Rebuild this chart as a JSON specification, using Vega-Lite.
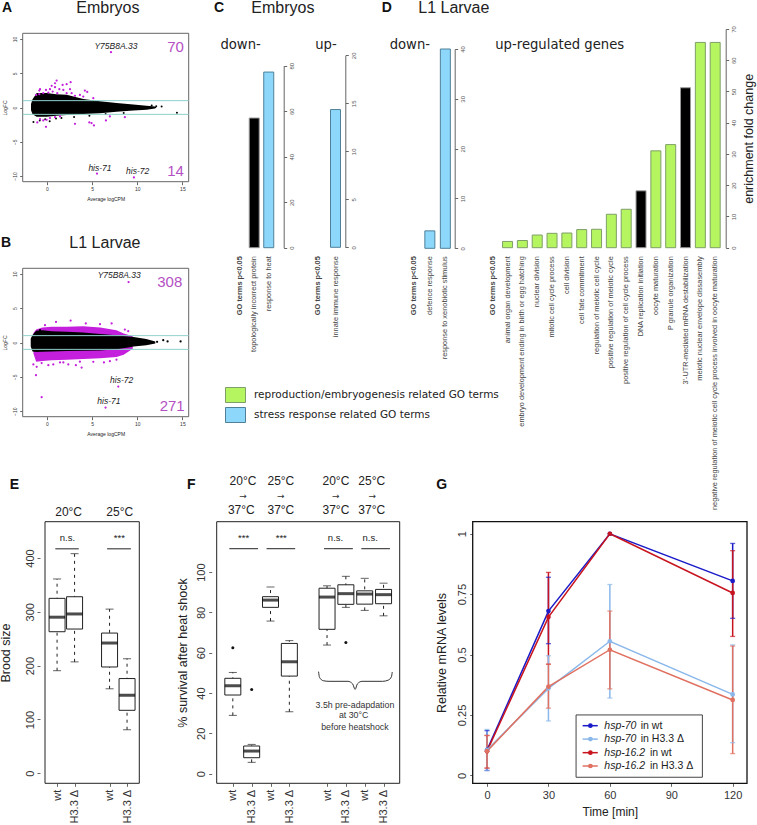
{
"$schema":"https://vega.github.io/schema/vega-lite/v6.json",
"width":757,"height":825,"padding":0,"autosize":{"type":"none"},
"background":"white",
"config":{"font":"Liberation Sans","view":{"stroke":null},"axis":{"grid":false,"domain":false,"tickColor":"#666","tickSize":3,"labelColor":"#333","titleColor":"#222","titleFontWeight":"normal","labelFlush":false,"labelOverlap":false}},
"resolve":{"scale":{"x":"independent","y":"independent"}},
"layer":[
{"layer":[
 {"data":{"values":[{}]},"mark":{"type":"rect","fill":"white","stroke":"#666","strokeWidth":1},
  "encoding":{
   "x":{"datum":-2.69,"type":"quantitative","scale":{"domain":[-2.69,15.7],"range":[22.7,188.7],"nice":false,"zero":false},
    "axis":{"orient":"bottom","offset":-643.3,"values":[0,5,10,15],"labelFontSize":5,"title":"Average logCPM","titleFontSize":5,"titlePadding":5,"labelPadding":2}},
   "x2":{"datum":15.7},
   "y":{"datum":-10.83,"type":"quantitative","scale":{"domain":[-10.83,10.83],"range":[181.7,33.3],"nice":false,"zero":false},
    "axis":{"orient":"left","offset":-22.7,"values":[-10,-5,0,5,10],"labelFontSize":5,"labelAngle":-90,"title":"LogFC","titleFontSize":5,"titlePadding":5,"labelPadding":2}},
   "y2":{"datum":10.83}}},
 {"data":{"values":[{"a":-1.77,"lo":-0.4,"hi":0.5},{"a":-1.6,"lo":-1.0,"hi":1.2},{"a":-1.14,"lo":-1.35,"hi":2.1},{"a":-0.04,"lo":-1.35,"hi":2.1},{"a":1,"lo":-1.2,"hi":1.95},{"a":2.18,"lo":-1.1,"hi":1.85},{"a":4.02,"lo":-0.95,"hi":1.25},{"a":5.87,"lo":-0.83,"hi":0.9},{"a":7.71,"lo":-0.63,"hi":0.65},{"a":9.56,"lo":-0.42,"hi":0.42},{"a":11.03,"lo":-0.32,"hi":0.25},{"a":11.96,"lo":-0.15,"hi":0.15},{"a":12.1,"lo":-0.05,"hi":0.05}]},
  "mark":{"type":"area","color":"black"},
  "encoding":{"x":{"field":"a","type":"quantitative"},"y":{"field":"hi","type":"quantitative"},"y2":{"field":"lo"}}},
 {"data":{"values":[{"a":12.7,"m":0.15},{"a":14.4,"m":-0.75},{"a":-1.5,"m":-2.1},{"a":-0.8,"m":-1.9},{"a":-0.2,"m":-1.7},{"a":0.3,"m":-2.0},{"a":1.0,"m":-1.6},{"a":1.6,"m":-1.55},{"a":3,"m":-1.4},{"a":4.7,"m":-1.2},{"a":6.5,"m":-0.95},{"a":8.5,"m":-0.8},{"a":12.1,"m":0.2},{"a":11.6,"m":0.3}]},
  "mark":{"type":"point","filled":true,"color":"black","size":4,"opacity":1},
  "encoding":{"x":{"field":"a","type":"quantitative"},"y":{"field":"m","type":"quantitative"}}},
 {"data":{"values":[{"a":7.09,"m":8.08},{"a":5.54,"m":-9.64},{"a":9.63,"m":-10.2},{"a":1.07,"m":3.93},{"a":0.89,"m":3.54},{"a":0.52,"m":3.16},{"a":0.89,"m":2.96},{"a":1.73,"m":3.3},{"a":2.62,"m":3.69},{"a":2.18,"m":3.4},{"a":2.55,"m":2.67},{"a":1.81,"m":2.57},{"a":1.37,"m":2.67},{"a":0.33,"m":2.67},{"a":-0.11,"m":2.57},{"a":-0.77,"m":2.67},{"a":-0.85,"m":2.48},{"a":-0.41,"m":2.09},{"a":0.15,"m":2.18},{"a":0.63,"m":2.33},{"a":1.14,"m":2.09},{"a":2.18,"m":2.09},{"a":2.73,"m":2.09},{"a":4.2,"m":2.48},{"a":4.46,"m":2.28},{"a":3.65,"m":1.84},{"a":3.1,"m":1.7},{"a":5.13,"m":1.36},{"a":4.02,"m":1.6},{"a":-0.85,"m":1.94},{"a":-1.2,"m":1.84},{"a":-0.11,"m":-2.82},{"a":-1.07,"m":-2.18},{"a":-0.41,"m":-1.89},{"a":0.33,"m":-1.55},{"a":0.89,"m":-1.41},{"a":3.1,"m":-2.38},{"a":4.69,"m":-2.18},{"a":4.94,"m":-2.28},{"a":5.2,"m":-2.62},{"a":6.53,"m":-1.89},{"a":6.97,"m":-1.31},{"a":8.63,"m":-1.41},{"a":-0.77,"m":-1.7},{"a":-0.04,"m":-1.8},{"a":1.44,"m":-1.31}]},
  "mark":{"type":"point","filled":true,"color":"#c41fdc","size":5,"opacity":1},
  "encoding":{"x":{"field":"a","type":"quantitative"},"y":{"field":"m","type":"quantitative"}}},
 {"data":{"values":[{"v":1},{"v":-1}]},"mark":{"type":"rule","color":"#8fd0cc","strokeWidth":1},
  "encoding":{"y":{"field":"v","type":"quantitative"},"x":{"datum":-2.69},"x2":{"datum":15.7}}},
 {"data":{"values":[{"x":7.64,"y":9.0,"t":"Y75B8A.33"},{"x":5.87,"y":-8.76,"t":"his-71"},{"x":10.04,"y":-9.24,"t":"his-72"}]},
  "mark":{"type":"text","fontStyle":"italic","fontSize":8.5,"color":"#222"},
  "encoding":{"x":{"field":"x","type":"quantitative"},"y":{"field":"y","type":"quantitative"},"text":{"field":"t"}}},
 {"data":{"values":[{"x":14.25,"y":8.85,"t":"70"},{"x":14.25,"y":-9.24,"t":"14"}]},
  "mark":{"type":"text","fontSize":15,"color":"#b44fc4"},
  "encoding":{"x":{"field":"x","type":"quantitative"},"y":{"field":"y","type":"quantitative"},"text":{"field":"t"}}},
 {"data":{"values":[{"x":-4.43,"y":14.5,"t":"A"},{"x":19.05,"y":14.5,"t":"C"},{"x":37.65,"y":14.5,"t":"D"}]},
  "mark":{"type":"text","fontSize":14,"fontWeight":"bold","color":"#111"},
  "encoding":{"x":{"field":"x","type":"quantitative"},"y":{"field":"y","type":"quantitative"},"text":{"field":"t"}}},
 {"data":{"values":[{"x":6.75,"y":14.5,"t":"Embryos"},{"x":26.13,"y":14.5,"t":"Embryos"},{"x":45.07,"y":14.5,"t":"L1 Larvae"}]},
  "mark":{"type":"text","fontSize":16,"color":"#222"},
  "encoding":{"x":{"field":"x","type":"quantitative"},"y":{"field":"y","type":"quantitative"},"text":{"field":"t"}}},
 {"data":{"values":[{"x":21.45,"y":9.1,"t":"down-"},{"x":30.9,"y":9.1,"t":"up-"},{"x":40.2,"y":9.1,"t":"down-"},{"x":56.8,"y":9.1,"t":"up-regulated genes"}]},
  "mark":{"type":"text","fontSize":13.2,"font":"DejaVu Sans","color":"#222"},
  "encoding":{"x":{"field":"x","type":"quantitative"},"y":{"field":"y","type":"quantitative"},"text":{"field":"t"}}}
]},
{"layer":[
 {"data":{"values":[{}]},"mark":{"type":"rect","fill":"white","stroke":"#666","strokeWidth":1},
  "encoding":{
   "x":{"datum":-2.69,"type":"quantitative","scale":{"domain":[-2.69,15.7],"range":[22.7,188.7],"nice":false,"zero":false},
    "axis":{"orient":"bottom","offset":-408.3,"values":[0,5,10,15],"labelFontSize":5,"title":"Average logCPM","titleFontSize":5,"titlePadding":5,"labelPadding":2}},
   "x2":{"datum":15.7},
   "y":{"datum":-10.8,"type":"quantitative","scale":{"domain":[-10.8,10.8],"range":[416.7,268.3],"nice":false,"zero":false},
    "axis":{"orient":"left","offset":-22.7,"values":[-10,-5,0,5,10],"labelFontSize":5,"labelAngle":-90,"title":"LogFC","titleFontSize":5,"titlePadding":5,"labelPadding":2}},
   "y2":{"datum":10.8}}},
 {"data":{"values":[{"a":-1.5,"lo":-1.6,"hi":1.4},{"a":-1.2,"lo":-2.8,"hi":1.9},{"a":-0.5,"lo":-2.7,"hi":2.2},{"a":0.5,"lo":-2.6,"hi":2.3},{"a":2.2,"lo":-2.5,"hi":2.3},{"a":4,"lo":-2.4,"hi":2.35},{"a":5.9,"lo":-2.3,"hi":2.2},{"a":7.7,"lo":-2.1,"hi":1.8},{"a":8.5,"lo":-1.8,"hi":1.3},{"a":9.5,"lo":-0.9,"hi":0.9}]},
  "mark":{"type":"area","color":"#c41fdc"},
  "encoding":{"x":{"field":"a","type":"quantitative"},"y":{"field":"hi","type":"quantitative"},"y2":{"field":"lo"}}},
 {"data":{"values":[{"a":-1.8,"lo":-0.6,"hi":0.6},{"a":-1.6,"lo":-1.3,"hi":1.1},{"a":-1.2,"lo":-1.4,"hi":1.7},{"a":-0.5,"lo":-1.35,"hi":1.8},{"a":0.5,"lo":-1.3,"hi":1.65},{"a":2.2,"lo":-1.25,"hi":1.55},{"a":4,"lo":-1.2,"hi":1.45},{"a":5.9,"lo":-1.15,"hi":1.25},{"a":7.7,"lo":-1.0,"hi":1.05},{"a":8.5,"lo":-0.85,"hi":0.95},{"a":9.6,"lo":-0.6,"hi":0.8},{"a":11,"lo":-0.4,"hi":0.5},{"a":12,"lo":-0.15,"hi":0.15}]},
  "mark":{"type":"area","color":"black"},
  "encoding":{"x":{"field":"a","type":"quantitative"},"y":{"field":"hi","type":"quantitative"},"y2":{"field":"lo"}}},
 {"data":{"values":[{"a":12.88,"m":0.34},{"a":13.36,"m":0.15},{"a":14.8,"m":0.15},{"a":-0.77,"m":1.8},{"a":12.2,"m":0.1}]},
  "mark":{"type":"point","filled":true,"color":"black","size":5,"opacity":1},
  "encoding":{"x":{"field":"a","type":"quantitative"},"y":{"field":"m","type":"quantitative"}}},
 {"data":{"values":[{"a":9.04,"m":8.79},{"a":7.9,"m":-6.41},{"a":6.49,"m":-9.47},{"a":-0.22,"m":2.52},{"a":1,"m":3.0},{"a":2.62,"m":3.2},{"a":8.63,"m":1.89},{"a":9.0,"m":1.65},{"a":4.3,"m":2.77},{"a":5.87,"m":2.67},{"a":7.16,"m":2.77},{"a":-1.51,"m":-3.2},{"a":0.15,"m":-3.3},{"a":0.7,"m":-3.2},{"a":1.44,"m":-2.91},{"a":2.36,"m":-3.2},{"a":3.2,"m":-3.3},{"a":3.84,"m":-3.64},{"a":-1.22,"m":-4.76},{"a":-0.59,"m":-7.96},{"a":5.13,"m":-2.82},{"a":6.31,"m":-2.9},{"a":7.7,"m":-2.5},{"a":-1.14,"m":-3.54},{"a":-0.59,"m":-3.0},{"a":1.81,"m":-2.9},{"a":3.65,"m":-2.8},{"a":6.97,"m":-2.72}]},
  "mark":{"type":"point","filled":true,"color":"#c41fdc","size":5,"opacity":1},
  "encoding":{"x":{"field":"a","type":"quantitative"},"y":{"field":"m","type":"quantitative"}}},
 {"data":{"values":[{"v":1},{"v":-1}]},"mark":{"type":"rule","color":"#8fd0cc","strokeWidth":1},
  "encoding":{"y":{"field":"v","type":"quantitative"},"x":{"datum":-2.69},"x2":{"datum":15.7}}},
 {"data":{"values":[{"x":8.0,"y":9.8,"t":"Y75B8A.33"},{"x":8.27,"y":-5.49,"t":"his-72"},{"x":6.86,"y":-8.5,"t":"his-71"}]},
  "mark":{"type":"text","fontStyle":"italic","fontSize":8.5,"color":"#222"},
  "encoding":{"x":{"field":"x","type":"quantitative"},"y":{"field":"y","type":"quantitative"},"text":{"field":"t"}}},
 {"data":{"values":[{"x":13.6,"y":8.83,"t":"308"},{"x":13.87,"y":-9.27,"t":"271"}]},
  "mark":{"type":"text","fontSize":15,"color":"#b44fc4"},
  "encoding":{"x":{"field":"x","type":"quantitative"},"y":{"field":"y","type":"quantitative"},"text":{"field":"t"}}},
 {"data":{"values":[{"x":-4.54,"y":14.48,"t":"B"}]},
  "mark":{"type":"text","fontSize":14,"fontWeight":"bold","color":"#111"},
  "encoding":{"x":{"field":"x","type":"quantitative"},"y":{"field":"y","type":"quantitative"},"text":{"field":"t"}}},
 {"data":{"values":[{"x":6.42,"y":14.48,"t":"L1 Larvae"}]},
  "mark":{"type":"text","fontSize":16,"color":"#222"},
  "encoding":{"x":{"field":"x","type":"quantitative"},"y":{"field":"y","type":"quantitative"},"text":{"field":"t"}}}
]},
{"data":{"values":[{"term":"topologically incorrect protein","fold":57,"cat":"other"},{"term":"response to heat","fold":77.2,"cat":"stress response related GO terms"}]},
 "mark":{"type":"bar","size":10,"strokeWidth":1},
 "encoding":{
  "x":{"field":"term","type":"nominal","sort":null,"scale":{"type":"band","domain":["GO terms p<0.05","topologically incorrect protein","response to heat"],"range":[232.45,276],"paddingInner":0,"paddingOuter":0},
   "axis":{"orient":"bottom","offset":-577.3,"title":null,"ticks":false,"labelAngle":-90,"labelAlign":"right","labelBaseline":"middle","labelFontSize":7.4,"labelColor":"#444","labelPadding":8,"labelLimit":400,"labelFontWeight":{"condition":{"test":"datum.value=='GO terms p<0.05'","value":"bold"},"value":"normal"}}},
  "y":{"field":"fold","type":"quantitative","scale":{"domain":[0,80],"range":[247.7,65.7],"nice":false},
   "axis":{"orient":"right","offset":-473.3,"domain":true,"domainColor":"#666","values":[0,20,40,60,80],"title":null,"labelFontSize":6,"labelAngle":-90,"labelColor":"#555"}},
  "fill":{"field":"cat","type":"nominal","scale":{"domain":["reproduction/embryogenesis related GO terms","stress response related GO terms","other"],"range":["#b5f55f","#8dd7fb","#000000"]}},
  "stroke":{"field":"cat","type":"nominal","scale":{"domain":["reproduction/embryogenesis related GO terms","stress response related GO terms","other"],"range":["#7f9f68","#4f8098","#999999"]},"legend":null}}},
{"data":{"values":[{"term":"innate immune response","fold":14.35,"cat":"stress response related GO terms"}]},
 "mark":{"type":"bar","size":10,"strokeWidth":1},
 "encoding":{
  "x":{"field":"term","type":"nominal","sort":null,"scale":{"type":"band","domain":["GO terms p<0.05","innate immune response"],"range":[309.25,344.25],"paddingInner":0,"paddingOuter":0},
   "axis":{"orient":"bottom","offset":-577.3,"title":null,"ticks":false,"labelAngle":-90,"labelAlign":"right","labelBaseline":"middle","labelFontSize":7.4,"labelColor":"#444","labelPadding":8,"labelLimit":400,"labelFontWeight":{"condition":{"test":"datum.value=='GO terms p<0.05'","value":"bold"},"value":"normal"}}},
  "y":{"field":"fold","type":"quantitative","scale":{"domain":[0,20],"range":[247.3,55.3],"nice":false},
   "axis":{"orient":"right","offset":-411.7,"domain":true,"domainColor":"#666","values":[0,5,10,15,20],"title":null,"labelFontSize":6,"labelAngle":-90,"labelColor":"#555"}},
  "fill":{"field":"cat","type":"nominal"},
  "stroke":{"field":"cat","type":"nominal","legend":null}}},
{"data":{"values":[{"term":"defence response","fold":3.5,"cat":"stress response related GO terms"},{"term":"response to xenobiotic stimulus","fold":40,"cat":"stress response related GO terms"}]},
 "mark":{"type":"bar","size":10,"strokeWidth":1},
 "encoding":{
  "x":{"field":"term","type":"nominal","sort":null,"scale":{"type":"band","domain":["GO terms p<0.05","defence response","response to xenobiotic stimulus"],"range":[406.6,453.1],"paddingInner":0,"paddingOuter":0},
   "axis":{"orient":"bottom","offset":-577.3,"title":null,"ticks":false,"labelAngle":-90,"labelAlign":"right","labelBaseline":"middle","labelFontSize":7.4,"labelColor":"#444","labelPadding":8,"labelLimit":400,"labelFontWeight":{"condition":{"test":"datum.value=='GO terms p<0.05'","value":"bold"},"value":"normal"}}},
  "y":{"field":"fold","type":"quantitative","scale":{"domain":[0,40],"range":[248.3,49],"nice":false},
   "axis":{"orient":"right","offset":-302.3,"domain":true,"domainColor":"#666","values":[0,10,20,30,40],"title":null,"labelFontSize":6,"labelAngle":-90,"labelColor":"#555"}},
  "fill":{"field":"cat","type":"nominal"},
  "stroke":{"field":"cat","type":"nominal","legend":null}}},
{"data":{"values":[
 {"term":"animal organ development","fold":2.0,"cat":"reproduction/embryogenesis related GO terms"},
 {"term":"embryo development ending in birth or egg hatching","fold":2.3,"cat":"reproduction/embryogenesis related GO terms"},
 {"term":"nuclear division","fold":4.05,"cat":"reproduction/embryogenesis related GO terms"},
 {"term":"mitotic cell cycle process","fold":4.6,"cat":"reproduction/embryogenesis related GO terms"},
 {"term":"cell division","fold":4.7,"cat":"reproduction/embryogenesis related GO terms"},
 {"term":"cell fate commitment","fold":5.8,"cat":"reproduction/embryogenesis related GO terms"},
 {"term":"regulation of meiotic cell cycle","fold":5.9,"cat":"reproduction/embryogenesis related GO terms"},
 {"term":"positive regulation of meiotic cycle","fold":10.7,"cat":"reproduction/embryogenesis related GO terms"},
 {"term":"positive regulation of cell cycle process","fold":12.3,"cat":"reproduction/embryogenesis related GO terms"},
 {"term":"DNA replication initiation","fold":18.2,"cat":"other"},
 {"term":"oocyte maturation","fold":31,"cat":"reproduction/embryogenesis related GO terms"},
 {"term":"P granule organization","fold":33,"cat":"reproduction/embryogenesis related GO terms"},
 {"term":"3'-UTR-mediated mRNA destabilization","fold":51.2,"cat":"other"},
 {"term":"meiotic nuclear envelope dissasembly","fold":65.7,"cat":"reproduction/embryogenesis related GO terms"},
 {"term":"negative regulation of meiotic cell cycle process involved in oocyte maturation","fold":65.7,"cat":"reproduction/embryogenesis related GO terms"}]},
 "mark":{"type":"bar","size":10,"strokeWidth":1},
 "encoding":{
  "x":{"field":"term","type":"nominal","sort":null,"scale":{"type":"band","domain":["GO terms p<0.05","animal organ development","embryo development ending in birth or egg hatching","nuclear division","mitotic cell cycle process","cell division","cell fate commitment","regulation of meiotic cell cycle","positive regulation of meiotic cycle","positive regulation of cell cycle process","DNA replication initiation","oocyte maturation","P granule organization","3'-UTR-mediated mRNA destabilization","meiotic nuclear envelope dissasembly","negative regulation of meiotic cell cycle process involved in oocyte maturation"],"range":[485.3,722.6],"paddingInner":0,"paddingOuter":0},
   "axis":{"orient":"bottom","offset":-577.3,"title":null,"ticks":false,"labelAngle":-90,"labelAlign":"right","labelBaseline":"middle","labelFontSize":7.4,"labelColor":"#444","labelPadding":8,"labelLimit":400,"labelFontWeight":{"condition":{"test":"datum.value=='GO terms p<0.05'","value":"bold"},"value":"normal"}}},
  "y":{"field":"fold","type":"quantitative","scale":{"domain":[0,70],"range":[247.7,29],"nice":false},
   "axis":{"orient":"right","offset":-31.3,"domain":true,"domainColor":"#666","values":[0,10,20,30,40,50,60,70],"labelFontSize":6,"labelAngle":-90,"labelColor":"#555","title":"enrichment fold change","titleFontSize":12.5,"titleAngle":-90,"titlePadding":19}},
  "fill":{"field":"cat","type":"nominal","legend":{"orient":"none","legendX":225,"legendY":384.5,"title":null,"values":["reproduction/embryogenesis related GO terms","stress response related GO terms"],"padding":0,"rowPadding":0,"symbolSize":400,"symbolType":"M-1,-0.75H1V0.75H-1Z","symbolStrokeColor":"#5a7f8f","symbolStrokeWidth":1,"labelFont":"DejaVu Sans","labelFontSize":10.5,"labelOffset":8,"labelLimit":400,"labelColor":"#222"}},
  "stroke":{"field":"cat","type":"nominal","legend":null}}},
{"layer":[
 {"data":{"values":[{}]},"mark":{"type":"rect","fill":"white","stroke":"#222","strokeWidth":1},
  "encoding":{
   "x":{"datum":0.31,"type":"quantitative","scale":{"domain":[0.31,5.7],"range":[40,144.3],"nice":false,"zero":false},
    "axis":{"orient":"bottom","offset":-41.7,"values":[1,2,4,5],"title":null,"labelExpr":"datum.value==1||datum.value==4?'wt':'H3.3 Δ'","labelAngle":-90,"labelAlign":"right","labelBaseline":"middle","labelFontSize":11,"labelPadding":3}},
   "x2":{"datum":5.7},
   "y":{"datum":-18.6,"type":"quantitative","scale":{"domain":[-18.6,467.4],"range":[783.3,521.7],"nice":false,"zero":false},
    "axis":{"orient":"left","offset":-40,"values":[0,100,200,300,400],"labelAngle":-90,"labelFontSize":11,"title":"Brood size","titleFontSize":12.5,"titlePadding":12,"labelPadding":2}},
   "y2":{"datum":467.4}}},
 {"data":{"values":[{"pos":1,"lo":190.6,"q1":263,"med":290,"q3":325,"hi":361},{"pos":2,"lo":207,"q1":268,"med":296,"q3":328,"hi":408},{"pos":4,"lo":157,"q1":197.5,"med":242,"q3":260.5,"hi":305},{"pos":5,"lo":81,"q1":117,"med":145,"q3":176,"hi":213}]},
  "layer":[
   {"mark":{"type":"rule","strokeDash":[3,4],"color":"#222"},"encoding":{"x":{"field":"pos","type":"quantitative"},"y":{"field":"lo","type":"quantitative"},"y2":{"field":"hi"}}},
   {"mark":{"type":"tick","orient":"horizontal","size":8,"thickness":1,"color":"#222"},"encoding":{"x":{"field":"pos","type":"quantitative"},"y":{"field":"lo","type":"quantitative"}}},
   {"mark":{"type":"tick","orient":"horizontal","size":8,"thickness":1,"color":"#222"},"encoding":{"x":{"field":"pos","type":"quantitative"},"y":{"field":"hi","type":"quantitative"}}},
   {"mark":{"type":"bar","size":16,"fill":"white","stroke":"#222","strokeWidth":1},"encoding":{"x":{"field":"pos","type":"quantitative"},"y":{"field":"q1","type":"quantitative"},"y2":{"field":"q3"}}},
   {"mark":{"type":"tick","orient":"horizontal","size":16,"thickness":3,"color":"black"},"encoding":{"x":{"field":"pos","type":"quantitative"},"y":{"field":"med","type":"quantitative"}}}
  ]},
 {"data":{"values":[{"a":0.9,"b":2.24,"v":417},{"a":3.86,"b":5.22,"v":417}]},"mark":{"type":"rule","color":"#222","strokeWidth":1},
  "encoding":{"x":{"field":"a","type":"quantitative"},"x2":{"field":"b"},"y":{"field":"v","type":"quantitative"}}},
 {"data":{"values":[{"x":1.59,"y":436.5,"t":"n.s."},{"x":4.56,"y":436.5,"t":"***"}]},
  "mark":{"type":"text","fontSize":9.5,"color":"#222"},
  "encoding":{"x":{"field":"x","type":"quantitative"},"y":{"field":"y","type":"quantitative"},"text":{"field":"t"}}},
 {"data":{"values":[{"x":1.66,"y":486,"t":"20°C"},{"x":4.58,"y":486,"t":"25°C"}]},
  "mark":{"type":"text","fontSize":12,"color":"#222"},
  "encoding":{"x":{"field":"x","type":"quantitative"},"y":{"field":"y","type":"quantitative"},"text":{"field":"t"}}},
 {"data":{"values":[{"x":-1.44,"y":535.6,"t":"E"}]},
  "mark":{"type":"text","fontSize":14,"fontWeight":"bold","color":"#111"},
  "encoding":{"x":{"field":"x","type":"quantitative"},"y":{"field":"y","type":"quantitative"},"text":{"field":"t"}}}
]},
{"layer":[
 {"data":{"values":[{}]},"mark":{"type":"rect","fill":"white","stroke":"#222","strokeWidth":1},
  "encoding":{
   "x":{"datum":0.144,"type":"quantitative","scale":{"domain":[0.144,9.857],"range":[211.7,404.7],"nice":false,"zero":false},
    "axis":{"orient":"bottom","offset":-41.7,"values":[1,2,3,4,6,7,8,9],"title":null,"labelExpr":"datum.value==1||datum.value==3||datum.value==6||datum.value==8?'wt':'H3.3 Δ'","labelAngle":-90,"labelAlign":"right","labelBaseline":"middle","labelFontSize":11,"labelPadding":3}},
   "x2":{"datum":9.857},
   "y":{"datum":-4.8,"type":"quantitative","scale":{"domain":[-4.8,125],"range":[783.3,521.7],"nice":false,"zero":false},
    "axis":{"orient":"left","offset":-211.7,"values":[0,20,40,60,80,100],"labelAngle":-90,"labelFontSize":11,"title":"% survival after heat shock","titleFontSize":12.5,"titlePadding":6,"labelPadding":2}},
   "y2":{"datum":125}}},
 {"data":{"values":[{"pos":1,"lo":28.9,"q1":39,"med":43.6,"q3":47.3,"hi":50.2},{"pos":2,"lo":5.6,"q1":7.9,"med":11.2,"q3":13.7,"hi":14.5},{"pos":3,"lo":75.7,"q1":82.5,"med":86.1,"q3":87.8,"hi":92.6},{"pos":4,"lo":30.7,"q1":48.4,"med":55.5,"q3":64.6,"hi":66},{"pos":6,"lo":63.8,"q1":71.6,"med":87.6,"q3":92,"hi":93.2},{"pos":7,"lo":82.5,"q1":84,"med":89.3,"q3":93.7,"hi":97.9},{"pos":8,"lo":81,"q1":84.1,"med":89.1,"q3":90.7,"hi":96.9},{"pos":9,"lo":78.3,"q1":84.3,"med":88.8,"q3":91.4,"hi":94.5}]},
  "layer":[
   {"mark":{"type":"rule","strokeDash":[3,4],"color":"#222"},"encoding":{"x":{"field":"pos","type":"quantitative"},"y":{"field":"lo","type":"quantitative"},"y2":{"field":"hi"}}},
   {"mark":{"type":"tick","orient":"horizontal","size":8,"thickness":1,"color":"#222"},"encoding":{"x":{"field":"pos","type":"quantitative"},"y":{"field":"lo","type":"quantitative"}}},
   {"mark":{"type":"tick","orient":"horizontal","size":8,"thickness":1,"color":"#222"},"encoding":{"x":{"field":"pos","type":"quantitative"},"y":{"field":"hi","type":"quantitative"}}},
   {"mark":{"type":"bar","size":16,"fill":"white","stroke":"#222","strokeWidth":1},"encoding":{"x":{"field":"pos","type":"quantitative"},"y":{"field":"q1","type":"quantitative"},"y2":{"field":"q3"}}},
   {"mark":{"type":"tick","orient":"horizontal","size":16,"thickness":3,"color":"black"},"encoding":{"x":{"field":"pos","type":"quantitative"},"y":{"field":"med","type":"quantitative"}}}
  ]},
 {"data":{"values":[{"pos":1,"o":62.5},{"pos":2,"o":41.7},{"pos":7,"o":65.1}]},"mark":{"type":"point","filled":true,"color":"#111","size":9,"opacity":1},
  "encoding":{"x":{"field":"pos","type":"quantitative"},"y":{"field":"o","type":"quantitative"}}},
 {"data":{"values":[{"a":0.815,"b":2.34,"v":111.6},{"a":2.79,"b":4.31,"v":111.6},{"a":5.84,"b":7.37,"v":111.6},{"a":7.82,"b":9.34,"v":111.6}]},"mark":{"type":"rule","color":"#222","strokeWidth":1},
  "encoding":{"x":{"field":"a","type":"quantitative"},"x2":{"field":"b"},"y":{"field":"v","type":"quantitative"}}},
 {"data":{"values":[{"a":5.55,"m":50.6},{"a":5.6,"m":47.8},{"a":5.8,"m":46.1},{"a":6.1,"m":45.8},{"a":7.11,"m":45.8},{"a":7.36,"m":44.5},{"a":7.49,"m":41.8},{"a":7.61,"m":44.5},{"a":7.86,"m":45.8},{"a":8.95,"m":45.8},{"a":9.25,"m":46.4},{"a":9.42,"m":48.1},{"a":9.46,"m":50.4}]},
  "mark":{"type":"line","color":"#333","strokeWidth":1,"interpolate":"monotone"},
  "encoding":{"x":{"field":"a","type":"quantitative"},"y":{"field":"m","type":"quantitative"}}},
 {"data":{"values":[{"x":1.57,"y":116.9,"t":"***"},{"x":3.57,"y":116.9,"t":"***"},{"x":6.45,"y":116.7,"t":"n.s."},{"x":8.29,"y":116.7,"t":"n.s."}]},
  "mark":{"type":"text","fontSize":9.5,"color":"#222"},
  "encoding":{"x":{"field":"x","type":"quantitative"},"y":{"field":"y","type":"quantitative"},"text":{"field":"t"}}},
 {"data":{"values":[{"x":1.54,"y":145.1,"t":"20°C"},{"x":1.45,"y":130.6,"t":"37°C"},{"x":3.55,"y":145.1,"t":"25°C"},{"x":3.55,"y":130.6,"t":"37°C"},{"x":6.47,"y":145.1,"t":"20°C"},{"x":6.47,"y":130.6,"t":"37°C"},{"x":8.37,"y":145.1,"t":"25°C"},{"x":8.37,"y":130.6,"t":"37°C"}]},
  "mark":{"type":"text","fontSize":12,"color":"#222"},
  "encoding":{"x":{"field":"x","type":"quantitative"},"y":{"field":"y","type":"quantitative"},"text":{"field":"t"}}},
 {"data":{"values":[{"x":1.54,"y":137.7,"t":"→"},{"x":3.55,"y":137.7,"t":"→"},{"x":6.47,"y":137.7,"t":"→"},{"x":8.4,"y":137.7,"t":"→"}]},
  "mark":{"type":"text","fontSize":9,"font":"DejaVu Sans","color":"#333"},
  "encoding":{"x":{"field":"x","type":"quantitative"},"y":{"field":"y","type":"quantitative"},"text":{"field":"t"}}},
 {"data":{"values":[{"x":7.48,"y":34.1,"t":"3.5h pre-adapdation"},{"x":7.41,"y":29,"t":"at 30°C"},{"x":7.48,"y":23.3,"t":"before heatshock"}]},
  "mark":{"type":"text","fontSize":8.8,"color":"#333"},
  "encoding":{"x":{"field":"x","type":"quantitative"},"y":{"field":"y","type":"quantitative"},"text":{"field":"t"}}},
 {"data":{"values":[{"x":-1.2,"y":143.1,"t":"F"}]},
  "mark":{"type":"text","fontSize":14,"fontWeight":"bold","color":"#111"},
  "encoding":{"x":{"field":"x","type":"quantitative"},"y":{"field":"y","type":"quantitative"},"text":{"field":"t"}}}
]},
{"layer":[
 {"data":{"values":[{}]},"mark":{"type":"rect","fill":"white","stroke":"#111","strokeWidth":1.3},
  "encoding":{
   "x":{"datum":-7,"type":"quantitative","scale":{"domain":[-7,127],"range":[472.7,747],"nice":false,"zero":false},
    "axis":{"orient":"bottom","offset":-41.7,"values":[0,30,60,90,120],"labelFontSize":11,"title":"Time [min]","titleFontSize":12,"titlePadding":6,"labelPadding":3}},
   "x2":{"datum":127},
   "y":{"datum":-0.033,"type":"quantitative","scale":{"domain":[-0.033,1.05],"range":[783.3,521.7],"nice":false,"zero":false},
    "axis":{"orient":"left","offset":-472.7,"values":[0,0.25,0.5,0.75,1],"labelExpr":"''+datum.value","labelAngle":-90,"labelFontSize":11,"title":"Relative mRNA levels","titleFontSize":12.5,"titlePadding":8,"labelPadding":2}},
   "y2":{"datum":1.05}}},
 {"data":{"values":[
  {"t":0,"s":"hsp-70 in wt","v":0.105,"lo":0.02,"hi":0.185},{"t":30,"s":"hsp-70 in wt","v":0.68,"lo":0.545,"hi":0.82},{"t":60,"s":"hsp-70 in wt","v":1},{"t":120,"s":"hsp-70 in wt","v":0.805,"lo":0.65,"hi":0.96},
  {"t":0,"s":"hsp-16.2 in wt","v":0.1,"lo":0.03,"hi":0.165},{"t":30,"s":"hsp-16.2 in wt","v":0.655,"lo":0.46,"hi":0.84},{"t":60,"s":"hsp-16.2 in wt","v":1},{"t":120,"s":"hsp-16.2 in wt","v":0.755,"lo":0.575,"hi":0.93},
  {"t":0,"s":"hsp-70 in H3.3 Δ","v":0.105,"lo":0.02,"hi":0.19},{"t":30,"s":"hsp-70 in H3.3 Δ","v":0.36,"lo":0.225,"hi":0.495},{"t":60,"s":"hsp-70 in H3.3 Δ","v":0.555,"lo":0.32,"hi":0.79},{"t":120,"s":"hsp-70 in H3.3 Δ","v":0.335,"lo":0.135,"hi":0.54},
  {"t":0,"s":"hsp-16.2 in H3.3 Δ","v":0.1,"lo":0.03,"hi":0.165},{"t":30,"s":"hsp-16.2 in H3.3 Δ","v":0.367,"lo":0.278,"hi":0.46},{"t":60,"s":"hsp-16.2 in H3.3 Δ","v":0.52,"lo":0.358,"hi":0.68},{"t":120,"s":"hsp-16.2 in H3.3 Δ","v":0.312,"lo":0.09,"hi":0.535}]},
  "layer":[
   {"mark":{"type":"rule","strokeWidth":1.5},"encoding":{"x":{"field":"t","type":"quantitative"},"y":{"field":"lo","type":"quantitative"},"y2":{"field":"hi"},"color":{"field":"s","type":"nominal","legend":null,"scale":{"domain":["hsp-70 in wt","hsp-70 in H3.3 Δ","hsp-16.2 in wt","hsp-16.2 in H3.3 Δ"],"range":["#1a1ac8","#8ab8ea","#c8141e","#e07060"]}}}},
   {"mark":{"type":"tick","orient":"horizontal","size":5,"thickness":1.3},"encoding":{"x":{"field":"t","type":"quantitative"},"y":{"field":"lo","type":"quantitative"},"color":{"field":"s","type":"nominal","legend":null}}},
   {"mark":{"type":"tick","orient":"horizontal","size":5,"thickness":1.3},"encoding":{"x":{"field":"t","type":"quantitative"},"y":{"field":"hi","type":"quantitative"},"color":{"field":"s","type":"nominal","legend":null}}},
   {"mark":{"type":"line","strokeWidth":1.5},"encoding":{"x":{"field":"t","type":"quantitative"},"y":{"field":"v","type":"quantitative"},"color":{"field":"s","type":"nominal","legend":null}}},
   {"mark":{"type":"point","filled":true,"size":22,"opacity":1},"encoding":{"x":{"field":"t","type":"quantitative"},"y":{"field":"v","type":"quantitative"},"color":{"field":"s","type":"nominal","legend":null}}}
  ]},
 {"data":{"values":[{}]},"mark":{"type":"rect","fill":"white","stroke":"#444","strokeWidth":1},
  "encoding":{"x":{"datum":43.5,"type":"quantitative"},"x2":{"datum":105.2},"y":{"datum":-0.008,"type":"quantitative"},"y2":{"datum":0.25}}},
 {"data":{"values":[{"s":"hsp-70 in wt","k":0.2055},{"s":"hsp-70 in H3.3 Δ","k":0.15},{"s":"hsp-16.2 in wt","k":0.0938},{"s":"hsp-16.2 in H3.3 Δ","k":0.0386}]},
  "layer":[
   {"mark":{"type":"rule","strokeWidth":1.5},"encoding":{"x":{"datum":46.7},"x2":{"datum":54.1},"y":{"field":"k","type":"quantitative"},"color":{"field":"s","type":"nominal","legend":null}}},
   {"mark":{"type":"point","filled":true,"size":22,"opacity":1},"encoding":{"x":{"datum":50.5},"y":{"field":"k","type":"quantitative"},"color":{"field":"s","type":"nominal","legend":null}}}
  ]},
 {"data":{"values":[{"y":0.2055,"t":"hsp-70"},{"y":0.15,"t":"hsp-70"},{"y":0.0938,"t":"hsp-16.2"},{"y":0.0386,"t":"hsp-16.2"}]},
  "mark":{"type":"text","align":"left","fontStyle":"italic","fontSize":10.5,"color":"#222"},
  "encoding":{"x":{"datum":57.3},"y":{"field":"y","type":"quantitative"},"text":{"field":"t"}}},
 {"data":{"values":[{"x":75.1,"y":0.2055,"t":"in wt"},{"x":75.1,"y":0.15,"t":"in H3.3 Δ"},{"x":79.6,"y":0.0938,"t":"in wt"},{"x":79.6,"y":0.0386,"t":"in H3.3 Δ"}]},
  "mark":{"type":"text","align":"left","fontSize":10.5,"color":"#222"},
  "encoding":{"x":{"field":"x","type":"quantitative"},"y":{"field":"y","type":"quantitative"},"text":{"field":"t"}}},
 {"data":{"values":[{"x":-22.1,"y":1.2,"t":"G"}]},
  "mark":{"type":"text","fontSize":14,"fontWeight":"bold","color":"#111"},
  "encoding":{"x":{"field":"x","type":"quantitative"},"y":{"field":"y","type":"quantitative"},"text":{"field":"t"}}}
]}
]}
